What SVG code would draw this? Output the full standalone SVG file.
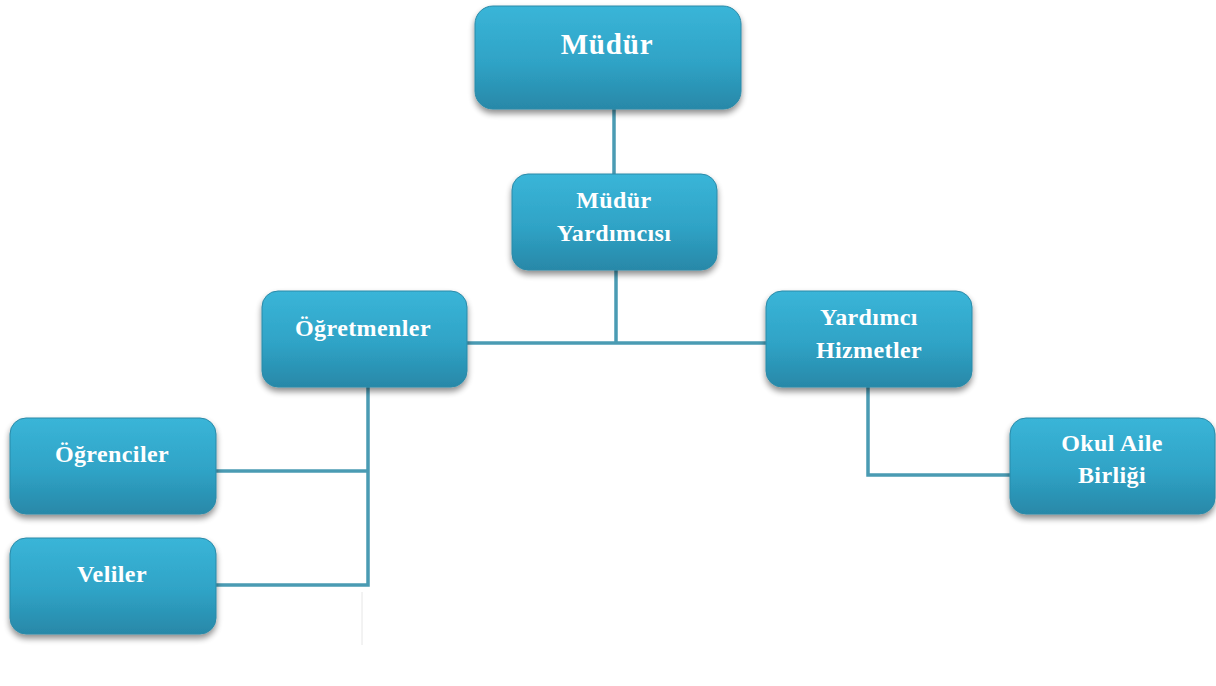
<svg xmlns="http://www.w3.org/2000/svg" width="1216" height="686" viewBox="0 0 1216 686">
<defs>
<linearGradient id="g" x1="0" y1="0" x2="0" y2="1">
<stop offset="0" stop-color="#3ab5d8"/>
<stop offset="0.55" stop-color="#2fa3c6"/>
<stop offset="1" stop-color="#2888a8"/>
</linearGradient>
<filter id="sh" x="-10%" y="-10%" width="120%" height="130%">
<feGaussianBlur in="SourceAlpha" stdDeviation="3"/>
<feOffset dx="0" dy="4" result="b"/>
<feComponentTransfer><feFuncA type="linear" slope="0.45"/></feComponentTransfer>
<feMerge><feMergeNode/><feMergeNode in="SourceGraphic"/></feMerge>
</filter>
</defs>
<style>
.box{fill:url(#g);filter:url(#sh);stroke:#2a8aa8;stroke-width:1}
.t{font-family:"Liberation Serif","Times New Roman",serif;font-weight:bold;font-size:24px;letter-spacing:0.4px;fill:#ffffff;text-anchor:middle}
.c{stroke:#4a9bb3;stroke-width:3.5;fill:none}
</style>
<rect width="1216" height="686" fill="#ffffff"/>
<g id="connectors">
<line class="c" x1="614" y1="109" x2="614" y2="176"/>
<line class="c" x1="616" y1="268" x2="616" y2="343"/>
<line class="c" x1="465" y1="343" x2="768" y2="343"/>
<polyline class="c" points="368,387 368,585 214,585"/>
<line class="c" x1="214" y1="471" x2="368" y2="471"/>
<polyline class="c" points="868,385 868,475 1012,475"/>
<line x1="362" y1="592" x2="362" y2="645" stroke="#e6e6e6" stroke-width="1"/>
</g>
<g id="mudur">
<rect class="box" x="475" y="6" width="266" height="103" rx="18"/>
<text class="t" x="607" y="54" style="font-size:29px;letter-spacing:0.8px">Müdür</text>
</g>
<g id="mudur-yardimcisi">
<rect class="box" x="512" y="174" width="205" height="96" rx="16"/>
<text class="t" x="614" y="208">Müdür</text>
<text class="t" x="614" y="241">Yardımcısı</text>
</g>
<g id="ogretmenler">
<rect class="box" x="262" y="291" width="205" height="96" rx="16"/>
<text class="t" x="363" y="336">Öğretmenler</text>
</g>
<g id="yardimci-hizmetler">
<rect class="box" x="766" y="291" width="206" height="96" rx="16"/>
<text class="t" x="869" y="325">Yardımcı</text>
<text class="t" x="869" y="358">Hizmetler</text>
</g>
<g id="ogrenciler">
<rect class="box" x="10" y="418" width="206" height="96" rx="16"/>
<text class="t" x="112" y="462">Öğrenciler</text>
</g>
<g id="veliler">
<rect class="box" x="10" y="538" width="206" height="96" rx="16"/>
<text class="t" x="112" y="582">Veliler</text>
</g>
<g id="okul-aile-birligi">
<rect class="box" x="1010" y="418" width="205" height="96" rx="16"/>
<text class="t" x="1112" y="451">Okul Aile</text>
<text class="t" x="1112" y="483">Birliği</text>
</g>
</svg>
